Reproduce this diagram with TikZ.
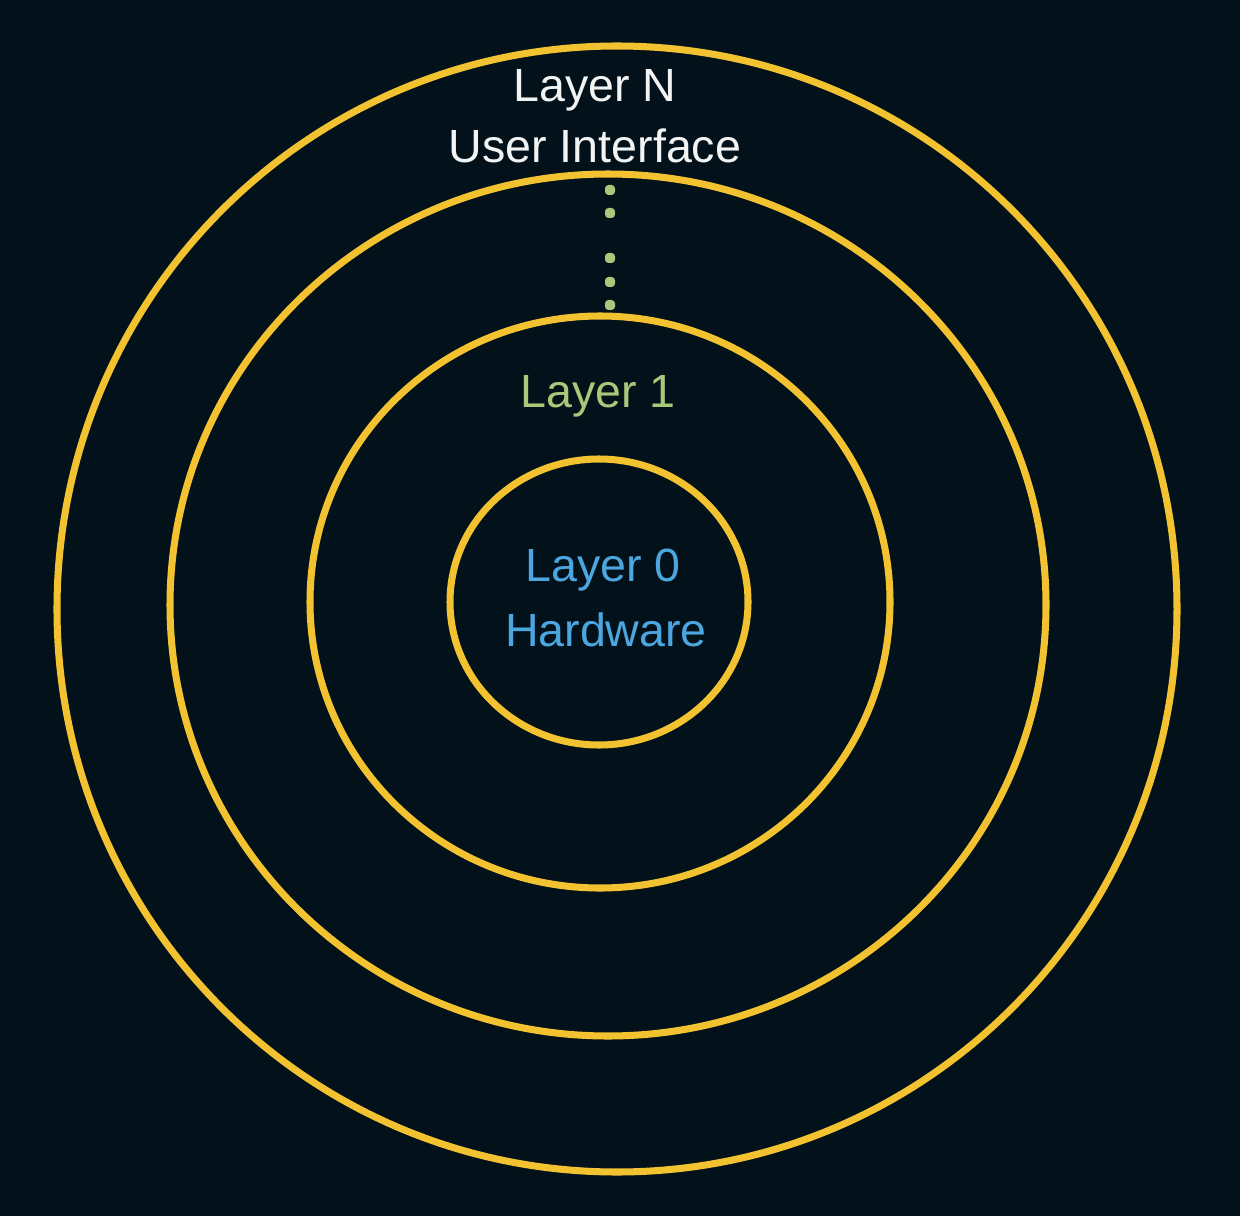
\documentclass[tikz,border=0pt]{standalone}
\usepackage{fontspec}
\setmainfont{Liberation Sans}
\definecolor{bg}{HTML}{03121A}
\definecolor{ring}{HTML}{F2C230}
\definecolor{lgreen}{HTML}{A9C97A}
\definecolor{lblue}{HTML}{4CA6E0}
\definecolor{ltext}{HTML}{F2F4F4}
\begin{document}
\begin{tikzpicture}[x=0.02cm,y=-0.02cm,
  ring/.style={draw=ring,line width=4pt},
  lbl/.style={anchor=base,inner sep=0pt,font=\fontsize{26.5}{32}\selectfont}]
\fill[bg](0,0)rectangle(1240,1216);
\useasboundingbox(0,0)rectangle(1240,1216);
\draw[ring](617,609)ellipse(560 and 563);
\draw[ring](608,605)ellipse(438 and 431);
\draw[ring](600,602)ellipse(290 and 286);
\draw[ring](599,602)ellipse(149 and 143);
\node[lbl,ltext](layerN)at(595,102){Layer N};
\node[lbl,ltext](ui)at(595,163){User Interface};
\foreach \y in {190,213,258,282,305}
  \fill[lgreen,rounded corners=2](605,\y-5)rectangle(615,\y+5);
\node[lbl,lgreen](layer1)at(598,407){Layer 1};
\node[lbl,lblue](layer0)at(603,581){Layer 0};
\node[lbl,lblue](hw)at(606,646){Hardware};
\end{tikzpicture}
\end{document}
